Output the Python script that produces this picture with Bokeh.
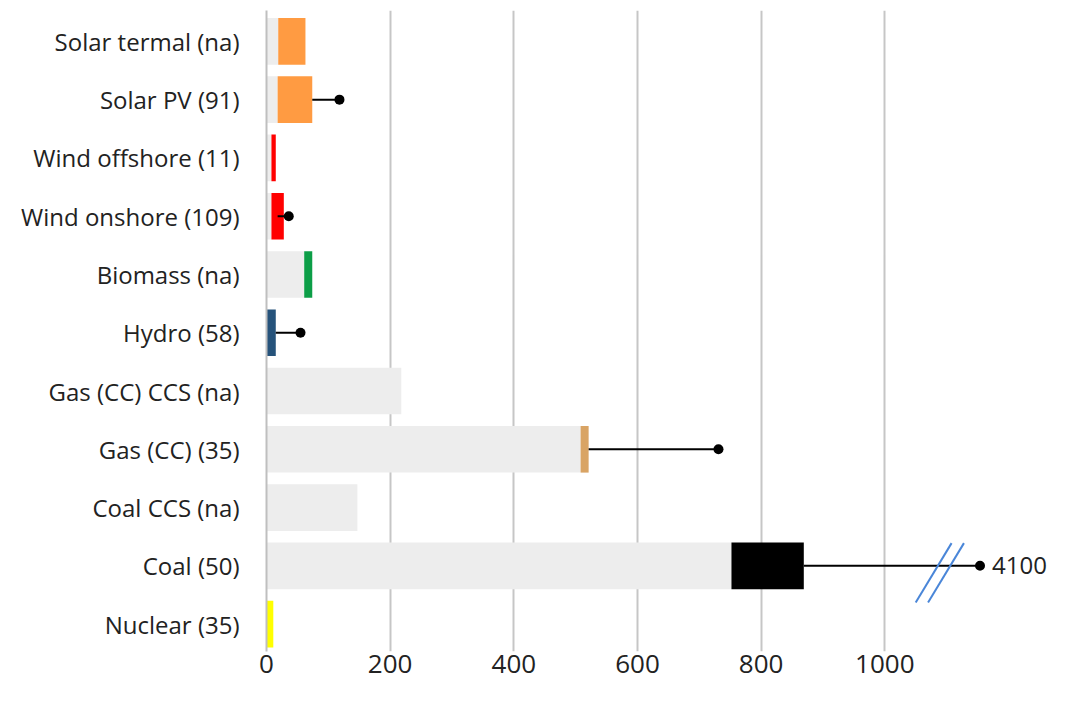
from bokeh.plotting import figure
from bokeh.models import Range1d, FixedTicker, ColumnDataSource
from bokeh.core.properties import value
from bokeh.embed import file_html
from bokeh.resources import INLINE

# ---- data (bottom row first) ----
labels = ["Nuclear (35)", "Coal (50)", "Coal CCS (na)", "Gas (CC) (35)",
          "Gas (CC) CCS (na)", "Hydro (58)", "Biomass (na)",
          "Wind onshore (109)", "Wind offshore (11)", "Solar PV (91)",
          "Solar termal (na)"]
low = [0, 752, 147, 508, 218, 0, 61, 8, 8, 18, 19]
high = [11, 869, 147, 521, 218, 15, 74, 28, 15, 74, 63]
colors = ["#FFFF00", "#000000", "#EDEDED", "#D9A464", "#EDEDED", "#26537B",
          "#0C9E47", "#FF0000", "#FF0000", "#FF9B42", "#FF9B42"]

# whiskers (rows that have a maximum marker)
wh_rows = ["Coal (50)", "Gas (CC) (35)", "Hydro (58)", "Wind onshore (109)", "Solar PV (91)"]
wh_from = [869, 521, 15, 18, 74]
wh_to = [1154, 731, 55, 36, 118]

# broken-axis annotation for coal maximum
coal_max_label = "4100"
break_x = 1089

xticks = [0, 200, 400, 600, 800, 1000]

FONT = "Open Sans"

ypos = list(range(len(labels)))
src = ColumnDataSource(dict(y=ypos, low=low, high=high, color=colors))
wy = [labels.index(r) for r in wh_rows]
wsrc = ColumnDataSource(dict(y=wy, x0=wh_from, x1=wh_to))

p = figure(width=1050, height=686, output_backend="svg", toolbar_location=None,
           x_range=Range1d(0, 1268), y_range=Range1d(-0.47, 10.53),
           min_border_left=266, min_border_right=0, min_border_top=10,
           min_border_bottom=35)
p.outline_line_color = None
p.background_fill_color = "white"

# grey base bars (0 -> low)
p.hbar(y="y", left=0, right="low", height=0.8, source=src,
       fill_color="#EDEDED", line_color=None)
# coloured range bars (low -> high)
p.hbar(y="y", left="low", right="high", height=0.8, source=src,
       fill_color="color", line_color=None)
# whiskers
p.segment(x0="x0", y0="y", x1="x1", y1="y", source=wsrc,
          line_color="black", line_width=2)
p.scatter(x="x1", y="y", source=wsrc, size=10, fill_color="black", line_color=None)

# break marks
ci = labels.index("Coal (50)")
for dx in (0, 20):
    p.line(x=[break_x - 39 + dx, break_x + 19 + dx], y=[ci - 0.63, ci + 0.39],
           line_color="#4A86D8", line_width=2)
p.text(x=[wh_to[0]], y=[ci], text=[coal_max_label], x_offset=12,
       text_font=value(FONT), text_font_size="24px", text_color="#222222",
       text_baseline="middle", text_align="left")

# axes
p.xgrid.ticker = FixedTicker(ticks=xticks)
p.xgrid.grid_line_color = "#C6C6C6"
p.xgrid.grid_line_width = 2
p.ygrid.grid_line_color = None

p.xaxis.ticker = FixedTicker(ticks=xticks)
p.xaxis.axis_line_color = None
p.xaxis.major_tick_line_color = None
p.xaxis.minor_tick_line_color = None
p.xaxis.major_tick_out = 0
p.xaxis.major_label_standoff = 3
p.xaxis.major_label_text_font = FONT
p.xaxis.major_label_text_font_size = "26px"
p.xaxis.major_label_text_color = "#222222"

p.yaxis.ticker = FixedTicker(ticks=ypos)
p.yaxis.major_label_overrides = {i: l for i, l in enumerate(labels)}
p.yaxis.axis_line_color = "#BFBFBF"
p.yaxis.axis_line_width = 2
p.yaxis.major_tick_line_color = None
p.yaxis.minor_tick_line_color = None
p.yaxis.major_tick_out = 0
p.yaxis.major_label_standoff = 27
p.yaxis.major_label_text_font = FONT
p.yaxis.major_label_text_font_size = "24px"
p.yaxis.major_label_text_color = "#222222"

open("out.html", "w").write(file_html(p, INLINE))
